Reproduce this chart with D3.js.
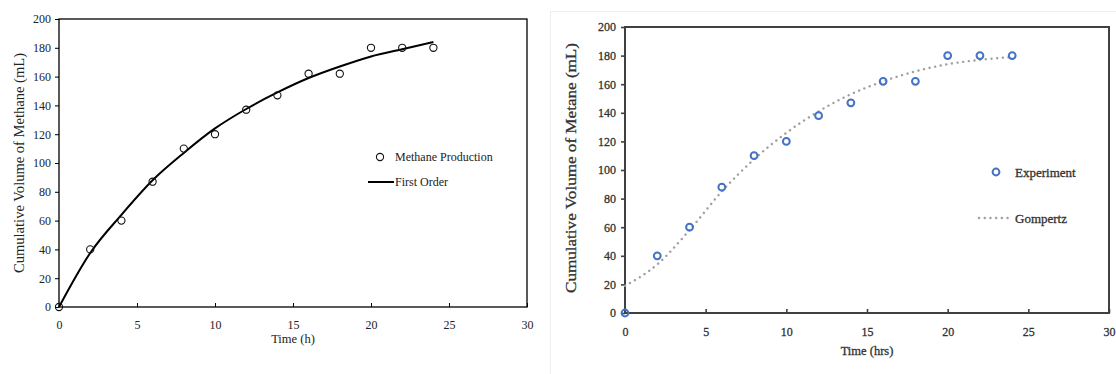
<!DOCTYPE html>
<html>
<head>
<meta charset="utf-8">
<script src="https://cdn.jsdelivr.net/npm/d3@7"></script>
<style>
  body { margin: 0; background: #fff; }
  svg { display: block; }
</style>
</head>
<body>
<svg id="chart" width="1116" height="374"></svg>
<script>
const hours = [0, 2, 4, 6, 8, 10, 12, 14, 16, 18, 20, 22, 24];
const methane = [0, 40, 60, 87, 110, 120, 137, 147, 162, 162, 180, 180, 180];
const experiment = [0, 40, 60, 88, 110, 120, 138, 147, 162, 162, 180, 180, 180];
// model curves
const firstOrder = [0, 37.5, 64, 88, 107, 124, 137.5, 149, 159, 167, 174, 179, 184];
const gompertz = [19, 34, 58, 85, 107.5, 126, 141, 153, 162, 169, 174, 177, 179];
const xTicks = [0, 5, 10, 15, 20, 25, 30];
const yTicks = [0, 20, 40, 60, 80, 100, 120, 140, 160, 180, 200];

const serif = "'Liberation Serif', 'Times New Roman', serif";
const svg = d3.select("#chart");

// faint frame around the right panel
svg.append("rect")
  .attr("x", 550.5).attr("y", 11.5)
  .attr("width", 570).attr("height", 370)
  .attr("fill", "none").attr("stroke", "#eeeeee");

function panel(opt) {
  const x = d3.scaleLinear().domain([0, 30]).range([opt.left, opt.right]);
  const y = d3.scaleLinear().domain([0, 200]).range([opt.bottom, opt.top]);
  const g = svg.append("g");

  const txt = sel => sel
    .attr("font-family", serif)
    .attr("fill", opt.textColor)
    .attr("stroke", opt.textStroke ? opt.textColor : null)
    .attr("stroke-width", opt.textStroke || null);

  // x axis (ticks inside)
  const xa = g.append("g")
    .attr("transform", "translate(0," + opt.bottom + ")")
    .call(d3.axisBottom(x).tickValues(xTicks).tickSize(-opt.tick).tickPadding(opt.xPad + opt.tick));
  // y axis (ticks outside)
  const ya = g.append("g")
    .attr("transform", "translate(" + opt.left + ",0)")
    .call(d3.axisLeft(y).tickValues(yTicks).tickSize(opt.tick).tickPadding(opt.yPad));
  [xa, ya].forEach(a => {
    a.select(".domain").remove();
    a.selectAll("line").attr("stroke", opt.axisColor).attr("stroke-width", opt.axisWidth * 0.8);
    a.selectAll("text").call(txt).attr("font-size", opt.fontSize);
  });

  // frame
  g.append("rect")
    .attr("x", opt.left).attr("y", opt.top)
    .attr("width", opt.right - opt.left).attr("height", opt.bottom - opt.top)
    .attr("fill", "none").attr("stroke", opt.axisColor).attr("stroke-width", opt.axisWidth);

  // axis titles
  g.append("text").call(txt)
    .attr("x", (opt.left + opt.right) / 2).attr("y", opt.xTitleY)
    .attr("text-anchor", "middle").attr("font-size", opt.fontSize + 0.5)
    .text(opt.xTitle);
  g.append("text").call(txt)
    .attr("transform", "translate(" + opt.yTitleX + "," + opt.yTitleY + ") rotate(-90)")
    .attr("text-anchor", "middle").attr("font-size", opt.yTitleSize)
    .attr("textLength", opt.yTitleLen).attr("lengthAdjust", "spacingAndGlyphs")
    .text(opt.yTitle);

  // model curve
  const line = d3.line()
    .x((d, i) => x(hours[i]))
    .y(d => y(d))
    .curve(d3.curveMonotoneX);
  g.append("path")
    .datum(opt.model)
    .attr("d", line)
    .attr("fill", "none")
    .attr("stroke", opt.lineColor)
    .attr("stroke-width", opt.lineWidth)
    .attr("stroke-dasharray", opt.dash)
    .attr("stroke-linecap", opt.dash ? "round" : "butt");

  // observed points
  g.selectAll(".pt")
    .data(opt.points)
    .join("circle")
    .attr("cx", (d, i) => x(hours[i]))
    .attr("cy", d => y(d))
    .attr("r", opt.r)
    .attr("fill", "none")
    .attr("stroke", opt.pointColor)
    .attr("stroke-width", opt.pointWidth);

  // legend
  const lg = opt.legend;
  g.append("circle")
    .attr("cx", lg.cx).attr("cy", lg.y1).attr("r", opt.r)
    .attr("fill", "none").attr("stroke", opt.pointColor).attr("stroke-width", opt.pointWidth);
  g.append("text").call(txt).attr("x", lg.tx).attr("y", lg.y1).attr("dy", "0.35em")
    .attr("font-size", lg.size).text(lg.label1);
  g.append("line")
    .attr("x1", lg.lx1).attr("x2", lg.lx2).attr("y1", lg.y2).attr("y2", lg.y2)
    .attr("stroke", opt.lineColor).attr("stroke-width", opt.lineWidth)
    .attr("stroke-dasharray", opt.dash)
    .attr("stroke-linecap", opt.dash ? "round" : "butt");
  g.append("text").call(txt).attr("x", lg.tx).attr("y", lg.y2).attr("dy", "0.35em")
    .attr("font-size", lg.size).text(lg.label2);
}

panel({
  left: 59, right: 527, top: 19, bottom: 307,
  tick: 4, xPad: 9, yPad: 4,
  axisColor: "#000", axisWidth: 1.3, textColor: "#222", fontSize: 12,
  xTitle: "Time (h)", xTitleY: 343,
  yTitle: "Cumulative Volume of Methane (mL)", yTitleX: 24, yTitleY: 163,
  yTitleSize: 14, yTitleLen: 220,
  model: firstOrder, lineColor: "#000", lineWidth: 2, dash: null,
  points: methane, pointColor: "#111", pointWidth: 1.1, r: 3.6,
  legend: { cx: 380, tx: 395, lx1: 368, lx2: 394, y1: 157, y2: 182, size: 12,
            label1: "Methane Production", label2: "First Order" }
});

panel({
  left: 625, right: 1109, top: 27, bottom: 313,
  tick: 4, xPad: 10, yPad: 5,
  axisColor: "#404040", axisWidth: 2, textColor: "#333", fontSize: 12, textStroke: 0.3,
  xTitle: "Time (hrs)", xTitleY: 355,
  yTitle: "Cumulative Volume of Metane (mL)", yTitleX: 576, yTitleY: 168,
  yTitleSize: 15, yTitleLen: 250,
  model: gompertz, lineColor: "#a0a0a0", lineWidth: 2.4, dash: "0.1 5.6",
  points: experiment, pointColor: "#4472c4", pointWidth: 2, r: 3.4,
  legend: { cx: 996, tx: 1015, lx1: 979, lx2: 1012, y1: 172, y2: 218, size: 13,
            label1: "Experiment", label2: "Gompertz" }
});
</script>
</body>
</html>
